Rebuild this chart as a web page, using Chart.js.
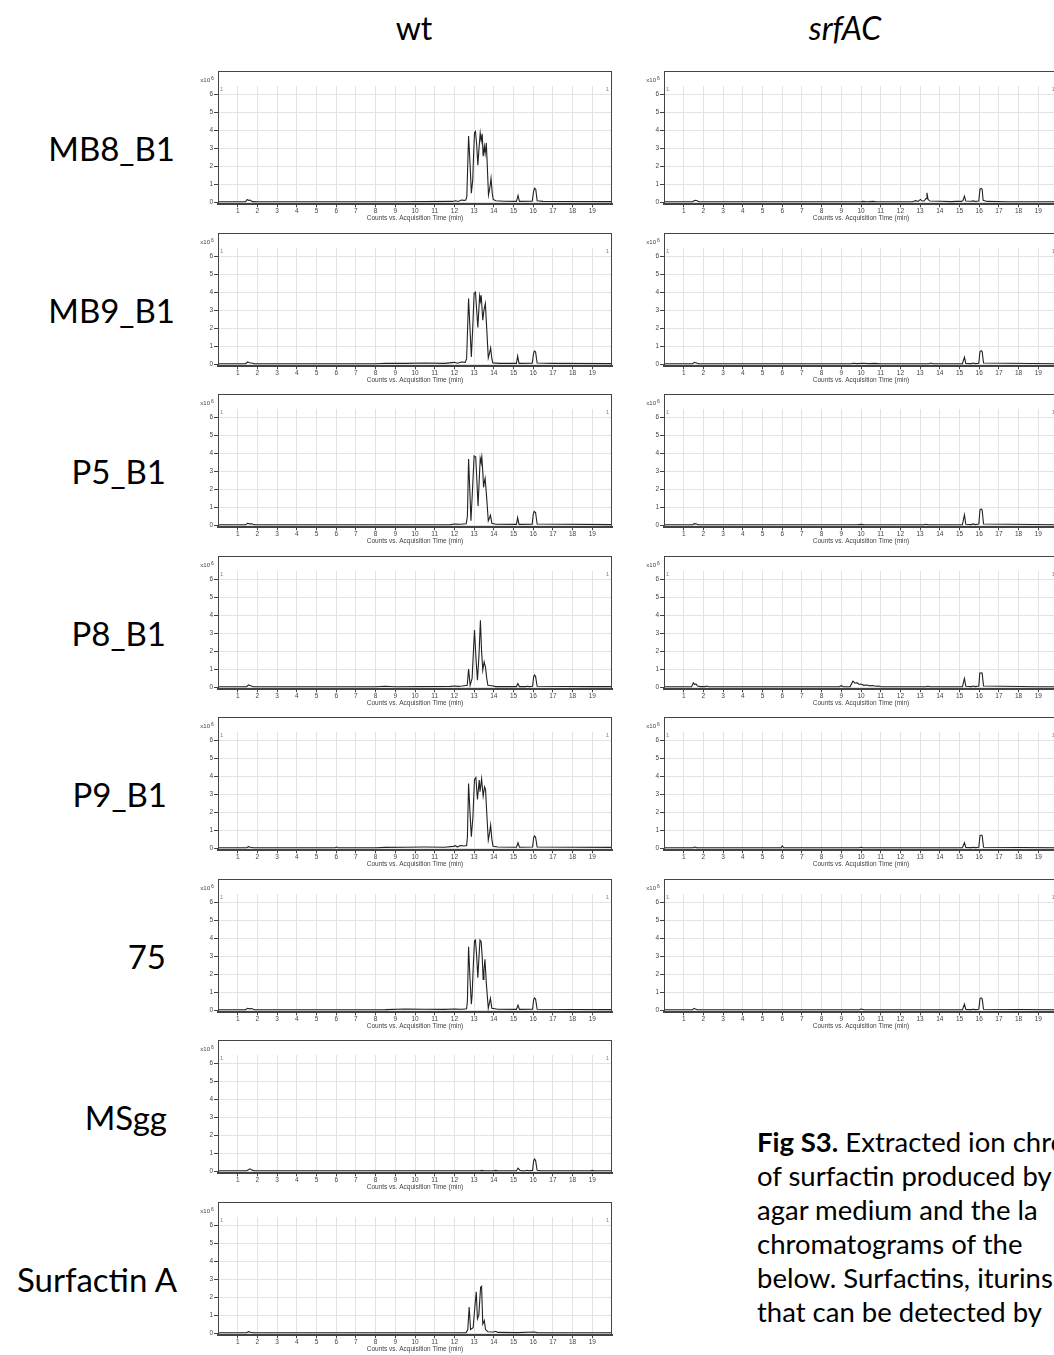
<!DOCTYPE html>
<html lang="en">
<head>
<meta charset="UTF-8" />
<title>Fig S3 - Extracted ion chromatograms of surfactin</title>
<script src="https://cdn.jsdelivr.net/npm/chart.js"></script>
<style>
  body {
    margin: 0;
    width: 1054px;
    height: 1355px;
    overflow: hidden;
    position: relative;
    background: #fff;
    color: #000;
    font-family: Lato, 'Open Sans', sans-serif;
  }
  .head {
    position: absolute;
    top: 11px;
    font-size: 32px;
    line-height: 34px;
    transform: translateX(-50%);
  }
  .rowlabel {
    position: absolute;
    left: 0;
    font-size: 33px;
    line-height: 34px;
    text-align: right;
    white-space: nowrap;
  }
  .panel {
    position: absolute;
    width: 430px;
    height: 156px;
  }
  .caption {
    position: absolute;
    left: 757px;
    top: 1125px;
    font-size: 27.5px;
    line-height: 34px;
    white-space: nowrap;
  }
</style>
</head>
<body>
  <div class="head" style="left:414px">wt</div>
  <div class="head" style="left:845px"><i>srfAC</i></div>

  <div class="caption">
    <div><b>Fig S3.</b> Extracted ion chromatograms</div>
    <div>of surfactin produced by</div>
    <div>agar medium and the la</div>
    <div>chromatograms of the</div>
    <div>below. Surfactins, iturins</div>
    <div>that can be detected by</div>
  </div>

<script>
const samples = ['MB8_B1', 'MB9_B1', 'P5_B1', 'P8_B1', 'P9_B1', '75', 'MSgg', 'Surfactin A'];
const strains = ['wt', 'srfAC'];
const xTicks = [1, 2, 3, 4, 5, 6, 7, 8, 9, 10, 11, 12, 13, 14, 15, 16, 17, 18, 19];
const yTicks = [0, 1, 2, 3, 4, 5, 6];
const xTitle = 'Counts vs. Acquisition Time (min)';

// [time (min), counts x10^6]
const wt_MB8_B1 = [[0,0.02],[1.4,0.02],[1.48,0.15],[1.55,0.1],[1.62,0.12],[1.75,0.03],[2.0,0.02],[9.0,0.02],[11.9,0.04],[12.05,0.08],[12.2,0.04],[12.35,0.12],[12.5,0.1],[12.58,0.12],[12.63,0.3],
  [12.72,3.67],[12.8,2.0],[12.86,0.5],[12.93,1.22],[12.97,2.5],[13.02,3.85],[13.07,3.92],[13.13,3.2],[13.19,2.05],[13.25,3.0],[13.31,3.83],[13.36,3.4],[13.41,3.8],[13.46,2.55],[13.52,3.1],[13.56,2.7],[13.62,3.28],[13.67,2.0],[13.73,0.4],[13.8,0.8],[13.86,1.33],[13.92,0.5],[13.97,0.15],
  [14.1,0.08],[14.5,0.05],[15.15,0.04],[15.23,0.37],[15.3,0.04],[15.95,0.05],[16.02,0.6],[16.07,0.77],[16.13,0.72],[16.2,0.08],[16.5,0.04],[20,0.03]];
const wt_MB9_B1 = [[0,0.02],[1.4,0.02],[1.5,0.12],[1.6,0.08],[1.7,0.06],[1.85,0.02],[8.0,0.02],[8.5,0.05],[9.5,0.04],[10.5,0.06],[11.5,0.04],[12.0,0.1],[12.15,0.05],[12.35,0.12],[12.55,0.1],[12.62,0.3],
  [12.72,3.65],[12.79,2.0],[12.86,0.4],[12.93,2.0],[13.0,3.93],[13.07,4.0],[13.13,3.0],[13.19,2.04],[13.28,3.78],[13.32,3.5],[13.36,3.83],[13.44,2.44],[13.5,3.0],[13.57,3.37],[13.64,2.0],[13.72,0.35],[13.78,0.6],[13.84,0.9],[13.9,0.3],[13.95,0.07],
  [14.3,0.04],[15.15,0.04],[15.21,0.45],[15.28,0.04],[15.95,0.05],[16.02,0.6],[16.06,0.72],[16.12,0.68],[16.2,0.06],[17,0.04],[20,0.03]];
const wt_P5_B1 = [[0,0.02],[1.4,0.02],[1.5,0.1],[1.6,0.07],[1.7,0.08],[1.85,0.02],[11.8,0.03],[12.0,0.06],[12.3,0.05],[12.6,0.08],[12.66,0.5],
  [12.72,3.67],[12.78,2.0],[12.84,0.24],[12.92,2.0],[13.0,3.85],[13.08,3.8],[13.14,2.5],[13.2,1.07],[13.26,2.5],[13.31,3.7],[13.35,3.5],[13.39,3.8],[13.44,3.0],[13.48,2.1],[13.52,2.4],[13.56,2.6],[13.64,1.5],[13.72,0.24],[13.78,0.4],[13.83,0.55],[13.9,0.1],
  [14.1,0.05],[15.15,0.04],[15.21,0.42],[15.28,0.04],[15.95,0.05],[16.0,0.6],[16.05,0.76],[16.12,0.7],[16.2,0.06],[20,0.03]];
const wt_P8_B1 = [[0,0.02],[1.45,0.02],[1.55,0.12],[1.65,0.08],[1.8,0.02],[8.0,0.02],[8.5,0.05],[9.0,0.02],[11.8,0.04],[12.0,0.06],[12.2,0.04],[12.4,0.06],[12.65,0.1],
  [12.72,1.0],[12.8,0.1],[12.9,0.5],[13.02,3.17],[13.1,1.5],[13.17,0.39],[13.25,1.8],[13.32,3.72],[13.38,2.0],[13.44,0.94],[13.51,1.4],[13.58,1.1],[13.64,0.5],[13.7,0.1],
  [13.9,0.08],[14.1,0.03],[15.15,0.03],[15.22,0.2],[15.3,0.03],[15.6,0.03],[15.7,0.05],[15.8,0.03],[15.97,0.05],[16.02,0.55],[16.06,0.67],[16.12,0.6],[16.2,0.05],[19,0.03],[20,0.03]];
const wt_P9_B1 = [[0,0.02],[1.45,0.02],[1.55,0.08],[1.65,0.05],[1.8,0.02],[5.95,0.02],[6.02,0.06],[6.1,0.02],[8.0,0.02],[8.5,0.04],[9.5,0.05],[10.5,0.06],[11.5,0.05],[11.95,0.1],[12.05,0.14],[12.15,0.06],[12.3,0.14],[12.5,0.12],[12.62,0.15],[12.66,0.6],
  [12.72,3.59],[12.79,2.0],[12.86,0.63],[12.94,1.74],[13.02,3.81],[13.09,3.92],[13.17,2.7],[13.26,3.78],[13.3,3.13],[13.38,3.85],[13.46,2.89],[13.53,3.4],[13.58,3.26],[13.65,1.8],[13.72,0.44],[13.78,0.8],[13.84,1.28],[13.9,0.5],[13.96,0.1],
  [14.2,0.06],[15.15,0.05],[15.23,0.3],[15.3,0.05],[15.97,0.06],[16.02,0.55],[16.06,0.68],[16.12,0.62],[16.2,0.06],[20,0.04]];
const wt_75 = [[0,0.02],[1.4,0.02],[1.5,0.1],[1.6,0.07],[1.7,0.09],[1.85,0.02],[8.5,0.03],[9.5,0.06],[10.5,0.05],[11.5,0.04],[12.0,0.06],[12.4,0.05],[12.62,0.08],[12.66,0.5],
  [12.72,3.52],[12.79,1.8],[12.86,0.33],[12.9,0.85],[12.96,2.5],[13.02,3.85],[13.07,3.89],[13.13,3.0],[13.19,1.8],[13.25,3.0],[13.3,3.89],[13.36,3.8],[13.41,3.0],[13.46,1.7],[13.5,2.2],[13.55,2.83],[13.62,1.5],[13.72,0.1],[13.78,0.4],[13.83,0.65],[13.9,0.1],
  [14.2,0.05],[15.15,0.04],[15.23,0.28],[15.3,0.04],[15.97,0.05],[16.02,0.55],[16.06,0.68],[16.12,0.62],[16.2,0.05],[20,0.03]];
const wt_MSgg = [[0,0.02],[1.45,0.02],[1.55,0.08],[1.62,0.13],[1.7,0.07],[1.8,0.03],[1.95,0.02],[13.3,0.02],[13.4,0.04],[13.5,0.02],[14.0,0.02],[14.1,0.04],[14.2,0.02],
  [15.15,0.02],[15.23,0.16],[15.32,0.05],[15.45,0.02],[15.6,0.02],[15.7,0.05],[15.8,0.02],[15.97,0.04],[16.02,0.55],[16.06,0.67],[16.12,0.6],[16.2,0.05],[16.4,0.02],[18.9,0.02],[19.0,0.04],[19.1,0.02],[20,0.02]];
const wt_SurfactinA = [[0,0.02],[1.45,0.02],[1.55,0.08],[1.65,0.05],[1.8,0.02],[12.6,0.03],[12.68,0.2],[12.75,1.45],[12.82,0.2],[12.95,0.3],[13.05,1.6],[13.11,2.3],[13.17,0.8],[13.24,1.0],[13.33,2.55],[13.38,2.6],[13.44,0.5],[13.52,0.7],[13.58,0.2],[13.7,0.08],
  [14.0,0.06],[14.1,0.1],[14.2,0.04],[15.2,0.03],[16.05,0.06],[16.2,0.03],[20,0.02]];

const sr_MB8_B1 = [[0,0.02],[1.45,0.02],[1.52,0.08],[1.6,0.1],[1.68,0.08],[1.78,0.02],[10.0,0.02],[10.1,0.04],[10.3,0.02],[10.6,0.04],[10.8,0.02],[12.6,0.02],[12.78,0.08],[12.9,0.04],[13.02,0.15],[13.1,0.06],[13.2,0.06],[13.3,0.2],[13.35,0.52],[13.4,0.15],[13.5,0.06],
  [14.0,0.05],[14.6,0.03],[14.8,0.04],[15.1,0.04],[15.18,0.1],[15.25,0.33],[15.32,0.06],[15.6,0.05],[15.7,0.07],[15.8,0.04],[15.98,0.06],[16.04,0.72],[16.1,0.76],[16.15,0.72],[16.2,0.1],[16.4,0.04],[17.5,0.02],[20,0.02]];
const sr_MB9_B1 = [[0,0.02],[1.45,0.02],[1.55,0.1],[1.65,0.06],[1.75,0.02],[9.5,0.02],[9.6,0.05],[9.8,0.03],[10.1,0.05],[10.4,0.03],[10.7,0.04],[11.0,0.02],[13.45,0.02],[13.55,0.06],[13.65,0.02],
  [15.15,0.03],[15.25,0.39],[15.32,0.04],[15.6,0.03],[15.7,0.06],[15.8,0.03],[15.98,0.05],[16.04,0.7],[16.1,0.75],[16.15,0.7],[16.22,0.06],[20,0.02]];
const sr_P5_B1 = [[0,0.02],[1.45,0.02],[1.55,0.08],[1.65,0.06],[1.75,0.02],[9.8,0.02],[10.0,0.04],[10.2,0.02],[13.2,0.02],[13.3,0.05],[13.4,0.02],
  [15.15,0.03],[15.25,0.58],[15.32,0.05],[15.6,0.03],[15.7,0.07],[15.8,0.03],[15.98,0.06],[16.04,0.85],[16.1,0.9],[16.15,0.84],[16.22,0.06],[20,0.02]];
const sr_P8_B1 = [[0,0.02],[1.4,0.02],[1.49,0.24],[1.55,0.15],[1.62,0.18],[1.7,0.06],[1.85,0.03],[2.1,0.03],[2.17,0.06],[2.25,0.02],[8.9,0.02],[9.0,0.08],[9.1,0.02],[9.45,0.03],[9.59,0.33],[9.7,0.22],[9.8,0.25],[9.9,0.15],[10.0,0.17],[10.15,0.1],[10.3,0.12],[10.45,0.07],[10.6,0.09],[10.75,0.05],[10.9,0.06],[11.0,0.02],
  [13.3,0.02],[13.4,0.05],[13.5,0.02],[15.15,0.03],[15.25,0.48],[15.32,0.05],[15.6,0.03],[15.7,0.06],[15.8,0.03],[15.98,0.06],[16.03,0.78],[16.1,0.8],[16.15,0.78],[16.22,0.06],[19.0,0.02],[20,0.02]];
const sr_P9_B1 = [[0,0.02],[1.45,0.02],[1.55,0.06],[1.65,0.03],[5.95,0.02],[6.0,0.12],[6.08,0.02],[9.9,0.02],[10.0,0.05],[10.1,0.02],
  [15.15,0.03],[15.25,0.3],[15.32,0.04],[15.6,0.03],[15.7,0.05],[15.8,0.03],[15.98,0.05],[16.04,0.7],[16.1,0.73],[16.15,0.7],[16.22,0.05],[20,0.02]];
const sr_75 = [[0,0.02],[1.45,0.02],[1.52,0.1],[1.6,0.06],[1.7,0.02],[9.9,0.02],[10.0,0.06],[10.15,0.02],
  [15.15,0.03],[15.25,0.33],[15.32,0.04],[15.6,0.03],[15.7,0.05],[15.8,0.03],[15.98,0.05],[16.04,0.64],[16.1,0.68],[16.15,0.64],[16.22,0.05],[20,0.02]];

const wtTraces = [wt_MB8_B1, wt_MB9_B1, wt_P5_B1, wt_P8_B1, wt_P9_B1, wt_75, wt_MSgg, wt_SurfactinA];
const srfACTraces = [sr_MB8_B1, sr_MB9_B1, sr_P5_B1, sr_P8_B1, sr_P9_B1, sr_75];

// layout
const firstTop = 71;
const rowPitch = 161.57;
const columnLeft = [190, 636];
const labelRight = [175, 175, 166, 166, 167, 166, 167, 177];
const tinyFont = '"Liberation Sans", Arial, sans-serif';

// frame, chromatogram number and multiplier, like the instrument export
const framePlugin = {
  id: 'frame',
  afterDraw(chart) {
    const { ctx, chartArea: a } = chart;
    ctx.save();
    ctx.strokeStyle = '#444';
    ctx.lineWidth = 1;
    ctx.strokeRect(a.left + 0.5, a.top - 14.5, a.right - a.left - 1, a.bottom - a.top + 14);
    ctx.fillStyle = '#888';
    ctx.font = '6px ' + tinyFont;
    ctx.textBaseline = 'middle';
    ctx.textAlign = 'left';
    ctx.fillText('1', a.left + 2, a.top + 3);
    ctx.textAlign = 'right';
    ctx.fillText('1', a.right - 3, a.top + 3);
    ctx.fillStyle = '#444';
    ctx.textBaseline = 'alphabetic';
    ctx.fillText('x10', a.left - 8, a.top - 4);
    ctx.font = '5px ' + tinyFont;
    ctx.textAlign = 'left';
    ctx.fillText('6', a.left - 7, a.top - 6);
    ctx.restore();
  }
};

function makePanel(trace, left, frameTop) {
  const box = document.createElement('div');
  box.className = 'panel';
  box.style.left = left + 'px';
  box.style.top = (frameTop - 5) + 'px';
  const cv = document.createElement('canvas');
  cv.width = 430;
  cv.height = 156;
  box.appendChild(cv);
  document.body.appendChild(box);

  new Chart(cv, {
    type: 'line',
    data: {
      datasets: [{
        data: trace,
        borderColor: '#222',
        borderWidth: 1.1,
        pointRadius: 0,
        tension: 0,
        fill: false
      }]
    },
    options: {
      responsive: false,
      animation: false,
      layout: { padding: { top: 20, right: 8, left: 0, bottom: 0 } },
      plugins: { legend: { display: false }, tooltip: { enabled: false } },
      scales: {
        x: {
          type: 'linear',
          min: 0,
          max: 20,
          afterFit: s => { s.height = 17.7; },
          afterBuildTicks: s => { s.ticks = xTicks.map(v => ({ value: v })); },
          grid: { color: '#e3e3e3', tickColor: '#444', tickLength: 3 },
          border: { color: '#444', width: 2 },
          ticks: { font: { size: 6.5, family: tinyFont }, color: '#444', padding: 0, maxRotation: 0, autoSkip: false },
          title: { display: true, text: xTitle, font: { size: 6.5, family: tinyFont }, color: '#444', padding: 0 }
        },
        y: {
          min: -0.12,
          max: 6.45,
          afterFit: s => { s.width = 28; },
          afterBuildTicks: s => { s.ticks = yTicks.map(v => ({ value: v })); },
          grid: { color: '#e3e3e3', tickColor: '#444', tickLength: 4 },
          border: { color: '#444', width: 1 },
          ticks: { font: { size: 6.5, family: tinyFont }, color: '#444', padding: 1 }
        }
      }
    },
    plugins: [framePlugin]
  });
}

samples.forEach((name, i) => {
  const top = firstTop + rowPitch * i;
  const lab = document.createElement('div');
  lab.className = 'rowlabel';
  lab.style.width = labelRight[i] + 'px';
  lab.style.top = (top + 77 - 17) + 'px';
  lab.textContent = name;
  document.body.appendChild(lab);

  makePanel(wtTraces[i], columnLeft[0], top);
  if (srfACTraces[i]) makePanel(srfACTraces[i], columnLeft[1], top);
});
</script>
</body>
</html>
